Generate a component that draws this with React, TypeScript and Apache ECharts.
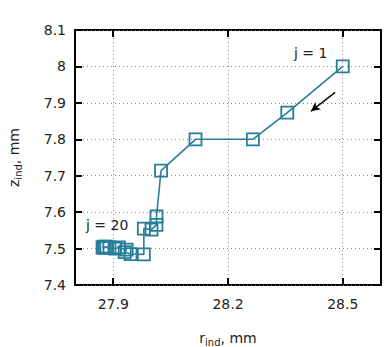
import React, { useEffect, useRef } from "react";
import * as echarts from "echarts";

const rValues = [28.5, 28.355, 28.265, 28.115, 28.025, 28.013, 28.013, 28.0, 27.98, 27.98, 27.945, 27.93, 27.935, 27.915, 27.905, 27.89, 27.882, 27.878, 27.875, 27.872];
const zValues = [8.0, 7.873, 7.8, 7.8, 7.714, 7.588, 7.565, 7.552, 7.555, 7.484, 7.485, 7.49, 7.497, 7.503, 7.5, 7.503, 7.505, 7.502, 7.505, 7.503];
const xTicks = [27.9, 28.2, 28.5];
const annotations = [
  { text: "j = 1", coord: [28.416, 8.036] },
  { text: "j = 20", coord: [27.884, 7.565] },
];
const arrowFrom = [28.48, 7.929];
const arrowTo = [28.417, 7.877];

const FONT = "DejaVu Sans";
const COLOR = "#2a7d99";

export default function App() {
  const ref = useRef<HTMLDivElement>(null);
  useEffect(() => {
    const chart = echarts.init(ref.current!, null, { renderer: "svg" });
    const tickStyle = { show: true, inside: true, length: 7, lineStyle: { color: "#000", width: 2 } };
    const splitStyle = { show: true, lineStyle: { color: "#888", type: [1, 3] as any, width: 1 } };
    const nameRich = {
      a: { fontFamily: FONT, fontSize: 14, color: "#222", lineHeight: 18 },
      b: { fontFamily: FONT, fontSize: 10, color: "#222", verticalAlign: "bottom", lineHeight: 14 },
    };
    chart.setOption({
      animation: false,
      backgroundColor: "#fff",
      grid: {
        left: 75, top: 30, right: 3, bottom: 62,
        containLabel: false, outerBoundsMode: "none",
        show: true, borderColor: "#000", borderWidth: 2,
      },
      xAxis: [
        {
          type: "value",
          min: 27.8,
          max: 28.6,
          axisLine: { show: false },
          axisTick: { ...tickStyle, customValues: xTicks },
          axisLabel: { customValues: xTicks, fontFamily: FONT, fontSize: 14, color: "#222", margin: 12, formatter: (v: number) => v.toFixed(1) },
          splitLine: splitStyle,
          name: "{a|r}{b|ind}{a|, mm}",
          nameLocation: "middle",
          nameGap: 44,
          nameMoveOverlap: false,
          nameTextStyle: { rich: nameRich },
        },
        {
          type: "value",
          position: "top",
          min: 27.8,
          max: 28.6,
          axisLine: { show: false },
          axisTick: { ...tickStyle, customValues: xTicks },
          axisLabel: { show: false, customValues: xTicks },
          splitLine: { show: false },
        },
      ],
      yAxis: [
        {
          type: "value",
          min: 7.4,
          max: 8.1,
          interval: 0.1,
          axisLine: { show: false },
          axisTick: tickStyle,
          axisLabel: { fontFamily: FONT, fontSize: 14, color: "#222", margin: 9, formatter: (v: number) => String(+v.toFixed(1)) },
          splitLine: splitStyle,
          name: "{a|z}{b|ind}{a|, mm}",
          nameLocation: "middle",
          nameRotate: 90,
          nameGap: 52,
          nameMoveOverlap: false,
          nameTextStyle: { rich: nameRich },
        },
        {
          type: "value",
          position: "right",
          min: 7.4,
          max: 8.1,
          interval: 0.1,
          axisLine: { show: false },
          axisTick: tickStyle,
          axisLabel: { show: false },
          splitLine: { show: false },
        },
      ],
      series: [
        {
          type: "line",
          data: rValues.map((r, i) => [r, zValues[i]]),
          symbol: "rect",
          symbolSize: 12,
          lineStyle: { color: COLOR, width: 1.6 },
          itemStyle: { color: "transparent", borderColor: COLOR, borderWidth: 1.8 },
          markPoint: {
            symbol: "rect",
            symbolSize: 1,
            itemStyle: { color: "transparent", borderWidth: 0 },
            label: { show: true, position: "inside", fontFamily: FONT, fontSize: 14, color: "#222" },
            data: annotations.map((a) => ({ coord: a.coord, label: { formatter: a.text } })),
          },
          markLine: {
            silent: true,
            symbol: ["none", "arrow"],
            symbolSize: [7, 9],
            lineStyle: { color: "#000", width: 1.5, type: "solid" },
            label: { show: false },
            data: [[{ coord: arrowFrom }, { coord: arrowTo }]],
          },
        },
      ],
    });
    return () => chart.dispose();
  }, []);
  return <div ref={ref} style={{ position: "fixed", left: 0, top: 0, width: 384, height: 347 }} />;
}
